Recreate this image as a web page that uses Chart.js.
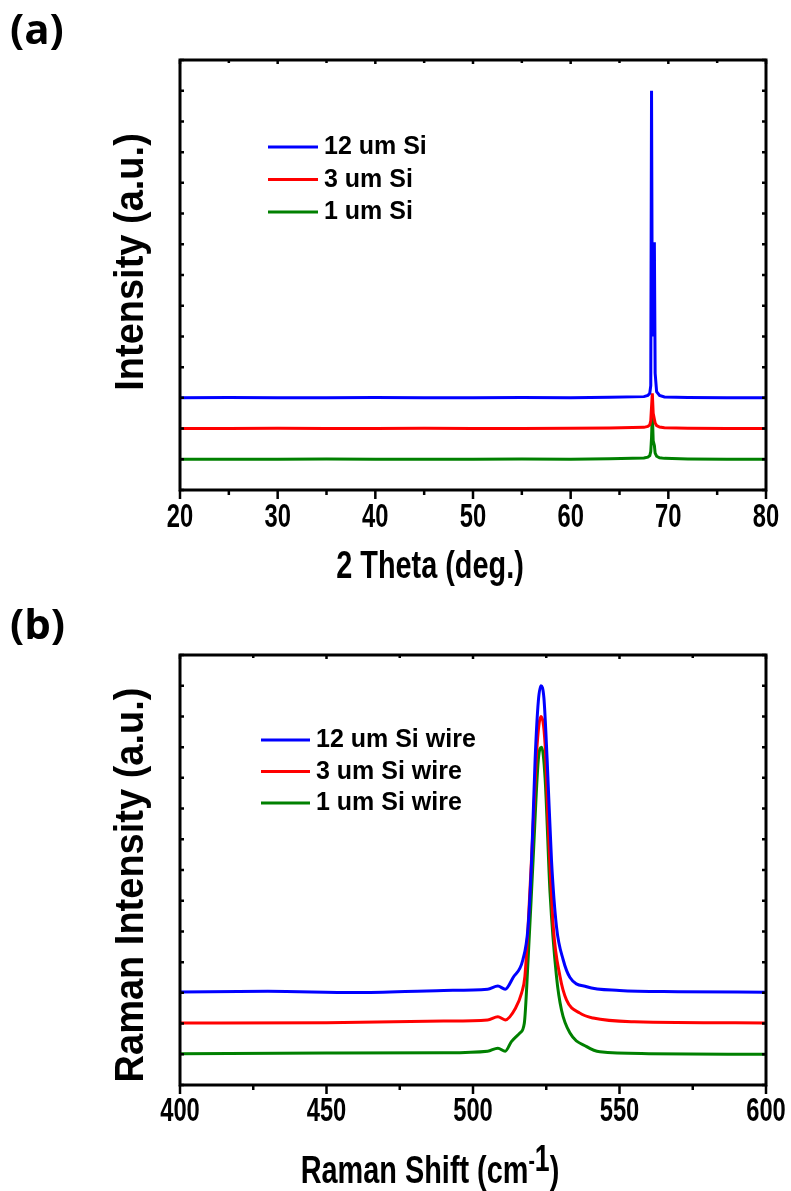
<!DOCTYPE html>
<html>
<head>
<meta charset="utf-8">
<script src="https://cdn.jsdelivr.net/npm/chart.js@4.4.0/dist/chart.umd.min.js"></script>
<style>
  body { margin: 0; background: #fff; width: 791px; height: 1191px; position: relative; overflow: hidden; }
  canvas { position: absolute; left: 0; }
  #xrd-chart { top: 0; }
  #raman-chart { top: 595px; }
</style>
</head>
<body>
<canvas id="xrd-chart" width="791" height="595"></canvas>
<canvas id="raman-chart" width="791" height="596"></canvas>
<script>
// ---- XRD patterns (stacked with an offset) ----
const xrdLabels = ['12 um Si', '3 um Si', '1 um Si'];
const xrdAngle = [20, 25, 30, 35, 40, 45, 50, 55, 60, 64, 67.5, 67.9, 68.1, 68.2, 68.28, 68.36, 68.45, 68.57, 68.65, 68.8, 69.1, 69.6, 72, 76, 80];
const xrd12um = [3.0, 3.01, 3.0, 3.0, 3.01, 3.0, 3.0, 3.01, 3.0, 3.02, 3.04, 3.08, 3.15, 3.4, 13.0, 5.0, 5.6, 8.07, 3.8, 3.2, 3.08, 3.03, 3.01, 3.0, 3.0];
const xrd3um = [2.0, 2.0, 2.01, 2.0, 2.0, 2.01, 2.0, 2.0, 2.01, 2.02, 2.04, 2.07, 2.12, 2.25, 2.7, 3.15, 2.5, 2.3, 2.18, 2.1, 2.05, 2.03, 2.01, 2.0, 2.0];
const xrd1um = [1.0, 1.0, 1.0, 1.01, 1.0, 1.0, 1.0, 1.01, 1.0, 1.02, 1.04, 1.07, 1.12, 1.25, 1.7, 2.5, 1.6, 1.45, 1.2, 1.1, 1.05, 1.03, 1.01, 1.0, 1.0];
const xrdTicks = ['20', '30', '40', '50', '60', '70', '80'];

// ---- Raman spectra (stacked with an offset) ----
const ramanLabels = ['12 um Si wire', '3 um Si wire', '1 um Si wire'];
const ramanShift12 = [400, 430, 460, 490, 505, 508.5, 511, 513.7, 517, 518.8, 520, 521.2, 522.3, 523.2, 524.2, 525.3, 526.8, 528.5, 530.8, 533.1, 538.8, 550, 570, 600];
const raman12um = [3.03, 3.05, 3.01, 3.08, 3.12, 3.22, 3.12, 3.5, 4.07, 5.15, 7.3, 10.6, 12.5, 13.0, 12.6, 10.6, 7.3, 5.15, 4.07, 3.5, 3.2, 3.08, 3.04, 3.02];
const ramanShift3 = [400, 450, 490, 505, 508.5, 511, 514.5, 516.6, 517.7, 518.8, 520.5, 521.9, 523.2, 524.6, 525.7, 527.4, 529.7, 531.9, 536.5, 541, 555, 600];
const raman3um = [2.02, 2.03, 2.08, 2.12, 2.22, 2.12, 2.5, 3.0, 3.53, 5.15, 8.4, 11.1, 12.0, 11.1, 8.4, 5.15, 3.53, 2.77, 2.34, 2.18, 2.06, 2.02];
const ramanShift1 = [400, 450, 490, 505, 508.5, 511, 513.1, 516, 517.5, 518.8, 520.5, 522.3, 523.4, 524.6, 526.3, 528.5, 530.2, 533.1, 538.8, 543.3, 560, 600];
const raman1um = [1.02, 1.04, 1.05, 1.1, 1.2, 1.1, 1.41, 1.69, 2.0, 4.07, 7.3, 10.6, 11.0, 10.0, 6.25, 3.53, 2.44, 1.69, 1.25, 1.08, 1.02, 1.0];
const ramanTicks = ['400', '450', '500', '550', '600'];

const seriesColors = ['#0000ff', '#ff0000', '#008000'];
const FONT = '"Liberation Sans", Arial, sans-serif';

function toPoints(xs, ys) {
  return xs.map((x, i) => ({ x: x, y: ys[i] }));
}

// draws text squeezed horizontally by sx, returns its drawn width
function drawText(ctx, text, x, y, size, sx, align) {
  ctx.save();
  ctx.font = 'bold ' + size + 'px ' + FONT;
  ctx.textAlign = 'left';
  ctx.textBaseline = 'alphabetic';
  const w = ctx.measureText(text).width * sx;
  const x0 = align === 'center' ? x - w / 2 : x;
  ctx.translate(x0, y);
  ctx.scale(sx, 1);
  ctx.fillText(text, 0, 0);
  ctx.restore();
  return w;
}

function partsWidth(ctx, parts, sx) {
  let w = 0;
  parts.forEach(p => {
    ctx.font = 'bold ' + p.size + 'px ' + FONT;
    w += ctx.measureText(p.text).width * sx;
  });
  return w;
}

// frame, ticks, tick labels, axis titles, panel letter and legend
const panelDecor = {
  id: 'panelDecor',
  afterDatasetsDraw(chart, args, opts) {
    const ctx = chart.ctx;
    const area = chart.chartArea;
    const xs = chart.scales.x;
    const ys = chart.scales.y;
    ctx.save();
    ctx.fillStyle = '#000';
    ctx.strokeStyle = '#000';

    // x ticks: outward at the bottom, inward at the top
    ctx.lineWidth = 2.5;
    xs.ticks.forEach(t => {
      const px = xs.getPixelForValue(t.value);
      const major = t.value % opts.labelStep === 0;
      ctx.beginPath();
      ctx.moveTo(px, area.bottom);
      ctx.lineTo(px, area.bottom + (major ? 9 : 5));
      ctx.moveTo(px, area.top);
      ctx.lineTo(px, area.top + (major ? 4 : 3));
      ctx.stroke();
    });
    opts.tickLabels.forEach(lbl => {
      const px = xs.getPixelForValue(Number(lbl));
      drawText(ctx, lbl, px, area.bottom + opts.labelOffset, 33, 0.72, 'center');
    });

    // y ticks: inward on both sides
    ys.ticks.forEach(t => {
      const py = ys.getPixelForValue(t.value);
      ctx.beginPath();
      ctx.moveTo(area.left, py);
      ctx.lineTo(area.left + 4, py);
      ctx.moveTo(area.right, py);
      ctx.lineTo(area.right - 4, py);
      ctx.stroke();
    });

    // frame
    ctx.lineWidth = 3;
    ctx.strokeRect(area.left, area.top, area.right - area.left, area.bottom - area.top);

    // x title (may carry a superscript)
    const sx = 0.74;
    let tx = opts.xTitleX - partsWidth(ctx, opts.xTitle, sx) / 2;
    opts.xTitle.forEach(p => {
      tx += drawText(ctx, p.text, tx, opts.xTitleY - (p.rise || 0), p.size, sx, 'left');
    });

    // y title, rotated
    ctx.save();
    ctx.translate(opts.yTitleX, opts.yTitleY);
    ctx.rotate(-Math.PI / 2);
    drawText(ctx, opts.yTitle, 0, 0, 40, 0.95, 'center');
    ctx.restore();

    // panel letter
    ctx.font = 'bold 42px "Open Sans", Lato, sans-serif';
    ctx.textAlign = 'left';
    ctx.textBaseline = 'alphabetic';
    ctx.fillText(opts.letter, 10, 44);

    // legend
    const lg = opts.legend;
    chart.data.datasets.forEach((ds, i) => {
      const ly = lg.y + i * lg.gap;
      ctx.strokeStyle = ds.borderColor;
      ctx.lineWidth = 3;
      ctx.beginPath();
      ctx.moveTo(lg.x, ly);
      ctx.lineTo(lg.x + lg.len, ly);
      ctx.stroke();
      ctx.fillStyle = '#000';
      drawText(ctx, ds.label, lg.x + lg.len + 6, ly + 7, 25, 1, 'left');
    });
    ctx.restore();
  }
};

function makeChart(canvasId, datasets, xMin, xMax, xStep, smooth, decor, pad) {
  return new Chart(document.getElementById(canvasId), {
    type: 'line',
    data: {
      datasets: datasets.map((d, i) => ({
        label: d.label,
        data: d.points,
        borderColor: seriesColors[i],
        borderWidth: 3,
        pointRadius: 0,
        cubicInterpolationMode: smooth ? 'monotone' : 'default',
        tension: 0,
        fill: false
      }))
    },
    options: {
      responsive: false,
      animation: false,
      events: [],
      layout: { padding: pad, autoPadding: false },
      scales: {
        x: {
          type: 'linear', min: xMin, max: xMax,
          ticks: { stepSize: xStep, display: false },
          grid: { display: false }, border: { display: false },
          afterFit: s => { s.height = 0; }
        },
        y: {
          min: 0, max: 14,
          ticks: { stepSize: 1, display: false },
          grid: { display: false }, border: { display: false },
          afterFit: s => { s.width = 0; }
        }
      },
      plugins: {
        legend: { display: false },
        tooltip: { enabled: false },
        panelDecor: decor
      }
    },
    plugins: [panelDecor]
  });
}

makeChart('xrd-chart', [
  { label: xrdLabels[0], points: toPoints(xrdAngle, xrd12um) },
  { label: xrdLabels[1], points: toPoints(xrdAngle, xrd3um) },
  { label: xrdLabels[2], points: toPoints(xrdAngle, xrd1um) }
], 20, 80, 5, false, {
  letter: '(a)',
  labelStep: 10,
  tickLabels: xrdTicks,
  labelOffset: 37,
  xTitle: [{ text: '2 Theta (deg.)', size: 39 }],
  xTitleX: 430, xTitleY: 578,
  yTitle: 'Intensity (a.u.)',
  yTitleX: 143, yTitleY: 262,
  legend: { x: 268, y: 147, gap: 32.5, len: 50 }
}, { left: 180, right: 25, top: 60, bottom: 105 });

makeChart('raman-chart', [
  { label: ramanLabels[0], points: toPoints(ramanShift12, raman12um) },
  { label: ramanLabels[1], points: toPoints(ramanShift3, raman3um) },
  { label: ramanLabels[2], points: toPoints(ramanShift1, raman1um) }
], 400, 600, 25, true, {
  letter: '(b)',
  labelStep: 50,
  tickLabels: ramanTicks,
  labelOffset: 36,
  xTitle: [
    { text: 'Raman Shift (cm', size: 39 },
    { text: '-', size: 26, rise: 14 },
    { text: '1', size: 36, rise: 12 },
    { text: ')', size: 39 }
  ],
  xTitleX: 430, xTitleY: 588,
  yTitle: 'Raman Intensity (a.u.)',
  yTitleX: 143, yTitleY: 290,
  legend: { x: 261, y: 145, gap: 31.5, len: 49 }
}, { left: 180, right: 25, top: 60, bottom: 106 });
</script>
</body>
</html>
